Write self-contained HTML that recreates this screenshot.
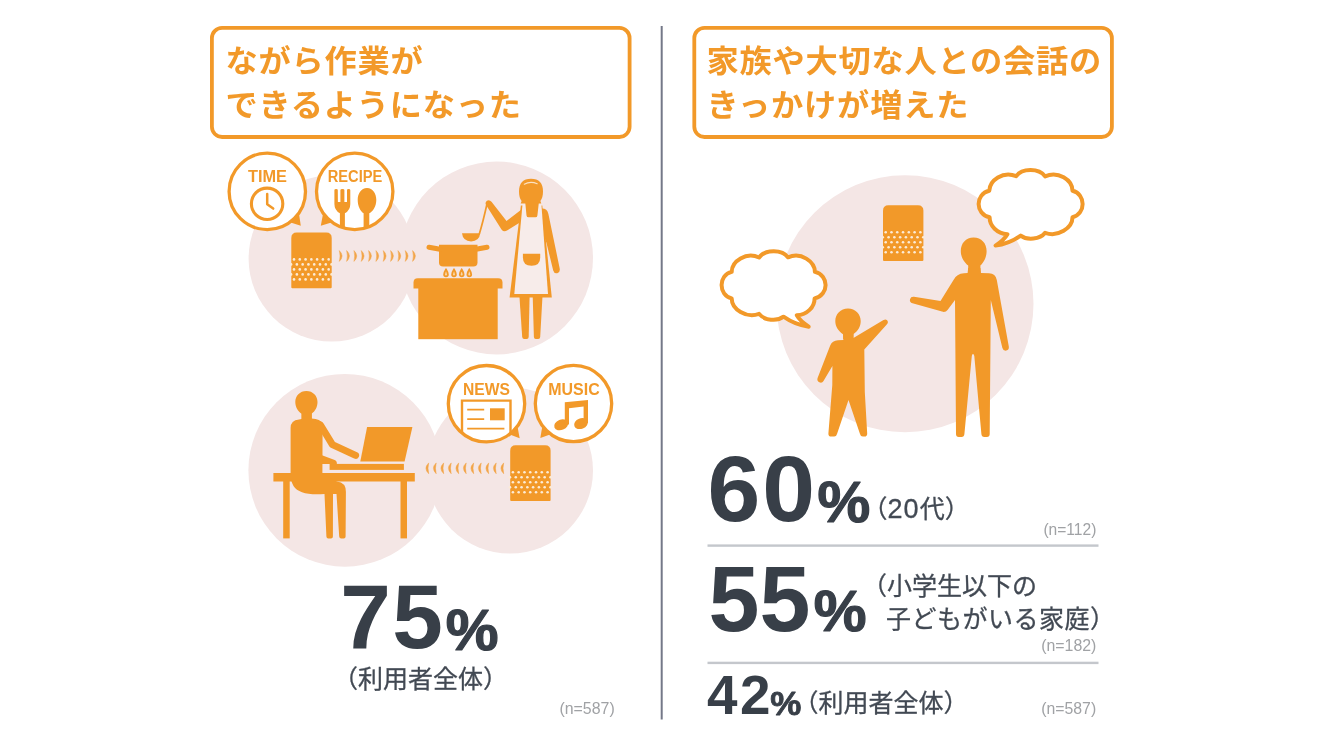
<!DOCTYPE html>
<html lang="ja">
<head>
<meta charset="utf-8">
<title>ながら作業ができるようになった・家族や大切な人との会話のきっかけが増えた</title>
<style>
html,body{margin:0;padding:0;background:#fff;}
body{width:1320px;height:743px;overflow:hidden;font-family:"Liberation Sans","Noto Sans CJK JP",sans-serif;}
svg{display:block;position:absolute;left:0;top:0;filter:blur(0.45px);}
svg text{font-family:"Liberation Sans","Noto Sans CJK JP",sans-serif;}
.ttl{font-weight:700;font-size:31px;fill:#f29929;letter-spacing:0.75px;}
.lbl{font-weight:700;font-size:15.8px;fill:#f29929;}
.big{font-weight:700;fill:#383f48;}
.note{font-weight:400;font-size:25px;fill:#424953;stroke:#424953;stroke-width:0.3px;}
.n{font-weight:400;font-size:17px;fill:#a0a2a5;}
</style>
</head>
<body>
<svg width="1320" height="743" viewBox="0 0 1320 743">

<rect x="660.7" y="26" width="2" height="693.5" fill="#747888"/>
<rect x="211.9" y="27.9" width="417.7" height="109.1" rx="10.2" fill="#fff" stroke="#f29929" stroke-width="3.8"/>
<rect x="694.3" y="27.9" width="417.6" height="109.1" rx="10.2" fill="#fff" stroke="#f29929" stroke-width="3.8"/>
<text class="ttl" transform="translate(225.4,72) scale(1.04,1)">ながら作業が</text>
<text class="ttl" transform="translate(225.4,115.8) scale(1.04,1)">できるようになった</text>
<text class="ttl" transform="translate(706.4,72.3) scale(1.04,1)">家族や大切な人との会話の</text>
<text class="ttl" transform="translate(706.4,116.2) scale(1.04,1)">きっかけが増えた</text>
<g fill="#f4e6e5">
<circle cx="331.6" cy="258.5" r="83"/>
<circle cx="496.6" cy="258" r="96.4"/>
<circle cx="344.8" cy="470.3" r="96.4"/>
<circle cx="510" cy="470.5" r="83"/>
<circle cx="905" cy="303.8" r="128.5"/>
</g>
<!-- cooking scene -->
<path d="M291.3,287.2 L291.3,237.9 Q291.3,232.4 296.8,232.4 L326.2,232.4 Q331.7,232.4 331.7,237.9 L331.7,287.2 Q331.7,288.2 330.7,288.2 L292.3,288.2 Q291.3,288.2 291.3,287.2 Z" fill="#f29929"/>
<g fill="#fcebd6"><circle cx="294.00" cy="259.40" r="1.3"/><circle cx="299.78" cy="259.40" r="1.3"/><circle cx="305.56" cy="259.40" r="1.3"/><circle cx="311.34" cy="259.40" r="1.3"/><circle cx="317.12" cy="259.40" r="1.3"/><circle cx="322.90" cy="259.40" r="1.3"/><circle cx="328.68" cy="259.40" r="1.3"/><circle cx="291.10" cy="264.40" r="1.3"/><circle cx="296.88" cy="264.40" r="1.3"/><circle cx="302.66" cy="264.40" r="1.3"/><circle cx="308.44" cy="264.40" r="1.3"/><circle cx="314.22" cy="264.40" r="1.3"/><circle cx="320.00" cy="264.40" r="1.3"/><circle cx="325.78" cy="264.40" r="1.3"/><circle cx="331.56" cy="264.40" r="1.3"/><circle cx="294.00" cy="269.40" r="1.3"/><circle cx="299.78" cy="269.40" r="1.3"/><circle cx="305.56" cy="269.40" r="1.3"/><circle cx="311.34" cy="269.40" r="1.3"/><circle cx="317.12" cy="269.40" r="1.3"/><circle cx="322.90" cy="269.40" r="1.3"/><circle cx="328.68" cy="269.40" r="1.3"/><circle cx="291.10" cy="274.40" r="1.3"/><circle cx="296.88" cy="274.40" r="1.3"/><circle cx="302.66" cy="274.40" r="1.3"/><circle cx="308.44" cy="274.40" r="1.3"/><circle cx="314.22" cy="274.40" r="1.3"/><circle cx="320.00" cy="274.40" r="1.3"/><circle cx="325.78" cy="274.40" r="1.3"/><circle cx="331.56" cy="274.40" r="1.3"/><circle cx="294.00" cy="279.40" r="1.3"/><circle cx="299.78" cy="279.40" r="1.3"/><circle cx="305.56" cy="279.40" r="1.3"/><circle cx="311.34" cy="279.40" r="1.3"/><circle cx="317.12" cy="279.40" r="1.3"/><circle cx="322.90" cy="279.40" r="1.3"/><circle cx="328.68" cy="279.40" r="1.3"/></g>
<g fill="#f2a548" stroke="#f2a548" stroke-width="0.5" stroke-linejoin="round"><path d="M339.30,250.60 q5.60,5.40 0,10.80 q1.50,-5.40 0,-10.80 z"/><path d="M346.63,250.60 q5.60,5.40 0,10.80 q1.50,-5.40 0,-10.80 z"/><path d="M353.96,250.60 q5.60,5.40 0,10.80 q1.50,-5.40 0,-10.80 z"/><path d="M361.29,250.60 q5.60,5.40 0,10.80 q1.50,-5.40 0,-10.80 z"/><path d="M368.62,250.60 q5.60,5.40 0,10.80 q1.50,-5.40 0,-10.80 z"/><path d="M375.95,250.60 q5.60,5.40 0,10.80 q1.50,-5.40 0,-10.80 z"/><path d="M383.28,250.60 q5.60,5.40 0,10.80 q1.50,-5.40 0,-10.80 z"/><path d="M390.61,250.60 q5.60,5.40 0,10.80 q1.50,-5.40 0,-10.80 z"/><path d="M397.94,250.60 q5.60,5.40 0,10.80 q1.50,-5.40 0,-10.80 z"/><path d="M405.27,250.60 q5.60,5.40 0,10.80 q1.50,-5.40 0,-10.80 z"/><path d="M412.60,250.60 q5.60,5.40 0,10.80 q1.50,-5.40 0,-10.80 z"/></g>
<polygon points="289,222 299,214 300.8,225.8" fill="#f29929"/><circle cx="267.3" cy="191.4" r="38.2" fill="#fff" stroke="#f29929" stroke-width="3.3"/>
<polygon points="320.8,225.8 323,214 333,222" fill="#f29929"/><circle cx="354.7" cy="191.4" r="38.2" fill="#fff" stroke="#f29929" stroke-width="3.3"/>
<text class="lbl" x="267.5" y="182.2" text-anchor="middle" textLength="39" lengthAdjust="spacingAndGlyphs">TIME</text>
<text class="lbl" x="355" y="182.2" text-anchor="middle" textLength="54.5" lengthAdjust="spacingAndGlyphs">RECIPE</text>
<circle cx="267.1" cy="203.8" r="15.7" fill="none" stroke="#f29929" stroke-width="3.1"/>
<path d="M267.2,194 L267.2,204.3 L273.2,208.6" fill="none" stroke="#f29929" stroke-width="2.5" stroke-linecap="round" stroke-linejoin="round"/>
<clipPath id="cR"><circle cx="354.7" cy="191.4" r="38"/></clipPath>
<g clip-path="url(#cR)" fill="#f29929">
<path d="M334.4,190 Q334.4,188.9 336.1,188.9 Q337.8,188.9 337.8,190 L337.9,202 L340.4,202 L340.4,190 Q340.4,188.9 342.4,188.9 Q344.4,188.9 344.4,190 L344.4,202 L347,202 L347,190 Q347,188.9 348.6,188.9 Q350.3,188.9 350.3,190 L350.3,204 Q350.3,210.3 344.9,213.3 L344.9,232 L339.9,232 L339.9,213.3 Q334.4,210.3 334.4,204 Z"/>
<path d="M367,188.1 C373,188.1 376.3,194 376.3,200 C376.3,206.5 373,211.3 369.3,213.3 L369.3,232 L363.6,232 L363.6,213.3 C360.5,211.3 357.7,206.5 357.7,200 C357.7,194 361,188.1 367,188.1 Z"/>
</g>
<g fill="#f29929">
<path d="M413.5,288.5 L413.5,282.5 Q413.5,278.2 417.8,278.2 L498.2,278.2 Q502.5,278.2 502.5,282.5 L502.5,288.5 Z"/>
<rect x="418.3" y="288" width="79.4" height="51.2"/>
<path d="M439,244.7 L477.5,244.7 L477.5,262.5 Q477.5,266.6 473.4,266.6 L443.1,266.6 Q439,266.6 439,262.5 Z"/>
</g>
<path d="M429,247.2 L440,249.2 M476,249.2 L487,247.2" stroke="#f29929" stroke-width="5" stroke-linecap="round" fill="none"/>
<g fill="#f9d8aa" stroke="#f29929" stroke-width="1.8"><path d="M446,269.6 q1.9,3 1.9,4.9 a1.9,1.9 0 0 1 -3.8,0 q0,-1.9 1.9,-4.9 z"/><path d="M454,269.6 q1.9,3 1.9,4.9 a1.9,1.9 0 0 1 -3.8,0 q0,-1.9 1.9,-4.9 z"/><path d="M461.7,269.6 q1.9,3 1.9,4.9 a1.9,1.9 0 0 1 -3.8,0 q0,-1.9 1.9,-4.9 z"/><path d="M469.3,269.6 q1.9,3 1.9,4.9 a1.9,1.9 0 0 1 -3.8,0 q0,-1.9 1.9,-4.9 z"/></g>
<path d="M462,233.3 L480.2,233.3 Q479.3,241.4 471.1,241.4 Q462.9,241.4 462,233.3 Z" fill="#f29929"/>
<path d="M479.3,234 Q483,222 487.2,203" fill="none" stroke="#f29929" stroke-width="1.7" stroke-linecap="round"/>
<g fill="#f29929">
<path d="M519,191.5 C519,183 523,178.8 531,178.8 C539,178.8 543,183 543,191.5 C543,196 542,199 540.4,201 L541.3,203.4 L520.7,203.4 L521.6,201 C520,199 519,196 519,191.5 Z"/>
<path d="M519.4,296 L529.6,296 L528.7,337 Q528.6,339 526.7,339 L524.2,339 Q522.4,339 522.2,337 Z"/>
<path d="M532.7,296 L542.5,296 L540.2,337 Q540.1,339 538.2,339 L535.7,339 Q534,339 533.9,337 Z"/>
<path d="M521.5,209.5 L506.5,221 L491.5,201.8 Q489.3,199.2 486.9,200.8 Q484.6,202.6 486.2,205.2 L501.5,229.5 Q503.8,232.5 507,230.6 L521.5,221.5 Z"/>
<path d="M542,208.6 Q547.2,208.6 548.4,214 L559.7,268.4 Q560.4,272.4 557.3,273.2 Q554.2,273.8 553.2,270.4 L546.5,243 L542,230 Z"/>
<path d="M520.9,205.5 L542.3,205.5 L551.8,297.4 L509.6,297.4 Z"/>
</g>
<path d="M522.5,204.6 L541.4,204.6 L548,294 L514.3,294 Z" fill="#f7ecea"/>
<path d="M525.3,203 L538.8,203 L537.4,215.4 Q537.2,217.3 535.3,217.3 L528.6,217.3 Q526.7,217.3 526.5,215.4 Z" fill="#f29929"/>
<path d="M522.9,253.8 L540.2,253.8 L540.2,257.5 Q540.2,265.8 531.55,265.8 Q522.9,265.8 522.9,257.5 Z" fill="#f29929"/>
<path d="M524.3,184.2 Q530.5,180.8 537.2,183.8" fill="none" stroke="#fbe2c3" stroke-width="1.1" stroke-linecap="round"/>
<!-- desk scene -->
<path d="M510.2,500.0 L510.2,450.7 Q510.2,445.2 515.7,445.2 L545.1,445.2 Q550.6,445.2 550.6,450.7 L550.6,500.0 Q550.6,501.0 549.6,501.0 L511.2,501.0 Q510.2,501.0 510.2,500.0 Z" fill="#f29929"/>
<g fill="#fcebd6"><circle cx="512.90" cy="472.20" r="1.3"/><circle cx="518.68" cy="472.20" r="1.3"/><circle cx="524.46" cy="472.20" r="1.3"/><circle cx="530.24" cy="472.20" r="1.3"/><circle cx="536.02" cy="472.20" r="1.3"/><circle cx="541.80" cy="472.20" r="1.3"/><circle cx="547.58" cy="472.20" r="1.3"/><circle cx="510.00" cy="477.20" r="1.3"/><circle cx="515.78" cy="477.20" r="1.3"/><circle cx="521.56" cy="477.20" r="1.3"/><circle cx="527.34" cy="477.20" r="1.3"/><circle cx="533.12" cy="477.20" r="1.3"/><circle cx="538.90" cy="477.20" r="1.3"/><circle cx="544.68" cy="477.20" r="1.3"/><circle cx="550.46" cy="477.20" r="1.3"/><circle cx="512.90" cy="482.20" r="1.3"/><circle cx="518.68" cy="482.20" r="1.3"/><circle cx="524.46" cy="482.20" r="1.3"/><circle cx="530.24" cy="482.20" r="1.3"/><circle cx="536.02" cy="482.20" r="1.3"/><circle cx="541.80" cy="482.20" r="1.3"/><circle cx="547.58" cy="482.20" r="1.3"/><circle cx="510.00" cy="487.20" r="1.3"/><circle cx="515.78" cy="487.20" r="1.3"/><circle cx="521.56" cy="487.20" r="1.3"/><circle cx="527.34" cy="487.20" r="1.3"/><circle cx="533.12" cy="487.20" r="1.3"/><circle cx="538.90" cy="487.20" r="1.3"/><circle cx="544.68" cy="487.20" r="1.3"/><circle cx="550.46" cy="487.20" r="1.3"/><circle cx="512.90" cy="492.20" r="1.3"/><circle cx="518.68" cy="492.20" r="1.3"/><circle cx="524.46" cy="492.20" r="1.3"/><circle cx="530.24" cy="492.20" r="1.3"/><circle cx="536.02" cy="492.20" r="1.3"/><circle cx="541.80" cy="492.20" r="1.3"/><circle cx="547.58" cy="492.20" r="1.3"/></g>
<g fill="#f2a548" stroke="#f2a548" stroke-width="0.5" stroke-linejoin="round"><path d="M428.70,462.90 q-5.60,5.40 0,10.80 q-1.50,-5.40 0,-10.80 z"/><path d="M436.20,462.90 q-5.60,5.40 0,10.80 q-1.50,-5.40 0,-10.80 z"/><path d="M443.70,462.90 q-5.60,5.40 0,10.80 q-1.50,-5.40 0,-10.80 z"/><path d="M451.20,462.90 q-5.60,5.40 0,10.80 q-1.50,-5.40 0,-10.80 z"/><path d="M458.70,462.90 q-5.60,5.40 0,10.80 q-1.50,-5.40 0,-10.80 z"/><path d="M466.20,462.90 q-5.60,5.40 0,10.80 q-1.50,-5.40 0,-10.80 z"/><path d="M473.70,462.90 q-5.60,5.40 0,10.80 q-1.50,-5.40 0,-10.80 z"/><path d="M481.20,462.90 q-5.60,5.40 0,10.80 q-1.50,-5.40 0,-10.80 z"/><path d="M488.70,462.90 q-5.60,5.40 0,10.80 q-1.50,-5.40 0,-10.80 z"/><path d="M496.20,462.90 q-5.60,5.40 0,10.80 q-1.50,-5.40 0,-10.80 z"/><path d="M503.70,462.90 q-5.60,5.40 0,10.80 q-1.50,-5.40 0,-10.80 z"/></g>
<polygon points="508.5,434 517.5,426.5 519.7,438.3" fill="#f29929"/><circle cx="486.5" cy="403.7" r="38.2" fill="#fff" stroke="#f29929" stroke-width="3.3"/>
<polygon points="540.3,438 542.3,426.5 551.5,434" fill="#f29929"/><circle cx="573.5" cy="403.5" r="38.2" fill="#fff" stroke="#f29929" stroke-width="3.3"/>
<text class="lbl" x="486.5" y="394.5" text-anchor="middle" textLength="47" lengthAdjust="spacingAndGlyphs">NEWS</text>
<text class="lbl" x="574" y="394.5" text-anchor="middle" textLength="51.4" lengthAdjust="spacingAndGlyphs">MUSIC</text>
<clipPath id="cN"><circle cx="486.5" cy="403.7" r="38"/></clipPath>
<g clip-path="url(#cN)">
<path d="M462,445 L462,400.6 L510.5,400.6 L510.5,445" fill="none" stroke="#f29929" stroke-width="2.4"/>
<path d="M467.2,409.7 L484.2,409.7 M467.2,419.2 L484.2,419.2 M467.2,428.7 L504.4,428.7" fill="none" stroke="#f29929" stroke-width="1.7"/>
<rect x="490" y="408.3" width="14.7" height="12" fill="#f29929"/>
</g>
<g fill="#f29929">
<ellipse cx="561.2" cy="424.8" rx="7.3" ry="5.2" transform="rotate(-22 561.2 424.8)"/>
<ellipse cx="581" cy="423.6" rx="7.1" ry="5.2" transform="rotate(-22 581 423.6)"/>
<path d="M564.8,402.3 L588,400 L588,423 L583.6,423 L583.6,406.6 L569,408.3 L569,424.5 L564.8,424.5 Z"/>
</g>
<g fill="#f29929">
<rect x="273.4" y="473" width="141.4" height="8.5"/>
<rect x="283.2" y="481" width="6.5" height="57.4"/>
<rect x="400.5" y="481" width="6.5" height="57.4"/>
<rect x="329.6" y="463.9" width="74.3" height="6"/>
<path d="M367.1,427 L412.4,427 L404.6,461.6 L360.3,461.6 Z"/>
<path d="M306.4,390.9 C313,390.9 317.5,395.8 317.5,402 C317.5,407 315.2,411 311.8,413.6 L311.8,419 L301.6,419 L301.6,413.8 C297.8,411 295.3,407 295.3,402 C295.3,395.8 299.8,390.9 306.4,390.9 Z"/>
<path d="M322,455.2 L335.3,460.2 Q337.2,461.2 336.9,464 L322,464 Z"/>
<path d="M301.6,411 L311.6,411 L311.6,418.6 Q320.5,419 322.6,423.5 L322.4,474 L337,481.5 Q346,482.5 345.9,492 L345.6,536.5 Q345.6,538.4 343.7,538.4 L341.2,538.4 Q339.4,538.4 339.2,536.5 L336.5,494 L333,494 L332.9,536.5 Q332.9,538.4 331,538.4 L328.3,538.4 Q326.5,538.4 326.4,536.5 L324.5,494 Q300,496 293.5,486 Q290.6,481 290.6,474 L290.6,428 Q290.6,420 299,419.4 L301.6,419 Z"/>
</g>
<path d="M320.6,425.2 L332.4,444.6 L355.6,455.4" fill="none" stroke="#f29929" stroke-width="7" stroke-linecap="round" stroke-linejoin="round"/>
<!-- family scene -->
<path d="M883,260.1 L883,210.8 Q883,205.3 888.5,205.3 L917.9,205.3 Q923.4,205.3 923.4,210.8 L923.4,260.1 Q923.4,261.1 922.4,261.1 L884.0,261.1 Q883,261.1 883,260.1 Z" fill="#f29929"/>
<g fill="#fcebd6"><circle cx="885.70" cy="232.30" r="1.3"/><circle cx="891.48" cy="232.30" r="1.3"/><circle cx="897.26" cy="232.30" r="1.3"/><circle cx="903.04" cy="232.30" r="1.3"/><circle cx="908.82" cy="232.30" r="1.3"/><circle cx="914.60" cy="232.30" r="1.3"/><circle cx="920.38" cy="232.30" r="1.3"/><circle cx="882.80" cy="237.30" r="1.3"/><circle cx="888.58" cy="237.30" r="1.3"/><circle cx="894.36" cy="237.30" r="1.3"/><circle cx="900.14" cy="237.30" r="1.3"/><circle cx="905.92" cy="237.30" r="1.3"/><circle cx="911.70" cy="237.30" r="1.3"/><circle cx="917.48" cy="237.30" r="1.3"/><circle cx="923.26" cy="237.30" r="1.3"/><circle cx="885.70" cy="242.30" r="1.3"/><circle cx="891.48" cy="242.30" r="1.3"/><circle cx="897.26" cy="242.30" r="1.3"/><circle cx="903.04" cy="242.30" r="1.3"/><circle cx="908.82" cy="242.30" r="1.3"/><circle cx="914.60" cy="242.30" r="1.3"/><circle cx="920.38" cy="242.30" r="1.3"/><circle cx="882.80" cy="247.30" r="1.3"/><circle cx="888.58" cy="247.30" r="1.3"/><circle cx="894.36" cy="247.30" r="1.3"/><circle cx="900.14" cy="247.30" r="1.3"/><circle cx="905.92" cy="247.30" r="1.3"/><circle cx="911.70" cy="247.30" r="1.3"/><circle cx="917.48" cy="247.30" r="1.3"/><circle cx="923.26" cy="247.30" r="1.3"/><circle cx="885.70" cy="252.30" r="1.3"/><circle cx="891.48" cy="252.30" r="1.3"/><circle cx="897.26" cy="252.30" r="1.3"/><circle cx="903.04" cy="252.30" r="1.3"/><circle cx="908.82" cy="252.30" r="1.3"/><circle cx="914.60" cy="252.30" r="1.3"/><circle cx="920.38" cy="252.30" r="1.3"/></g>
<path transform="translate(0,0)" d="M989.3,190.8 C989.5,180.5 1003,170.5 1016.2,176.2 C1022,168 1039,168 1045.1,176.4 C1058,170.5 1072.5,180 1072.5,190.8 C1086,194 1086,214 1072.5,217.3 C1072.5,228 1058,237.5 1045.1,232.8 C1040,239.5 1027,240.5 1020.7,235.6 C1013,241 1004,244.5 995.5,245.6 C1001,242 1005,238.5 1007.4,234.2 C997,233.5 989.6,226 989.6,217.3 C975,214 975,194 989.3,190.8 Z" fill="#fff" stroke="#f29929" stroke-width="4" stroke-linejoin="round"/>
<path transform="translate(1804.2,81.1) scale(-1,1)" d="M989.3,190.8 C989.5,180.5 1003,170.5 1016.2,176.2 C1022,168 1039,168 1045.1,176.4 C1058,170.5 1072.5,180 1072.5,190.8 C1086,194 1086,214 1072.5,217.3 C1072.5,228 1058,237.5 1045.1,232.8 C1040,239.5 1027,240.5 1020.7,235.6 C1013,241 1004,244.5 995.5,245.6 C1001,242 1005,238.5 1007.4,234.2 C997,233.5 989.6,226 989.6,217.3 C975,214 975,194 989.3,190.8 Z" fill="#fff" stroke="#f29929" stroke-width="4" stroke-linejoin="round"/>
<g fill="#f29929">
<path d="M848,308.4 C855.5,308.4 860.7,314 860.7,321 C860.7,326.5 858,331 853.6,334 L853.4,339 L843.2,339 L843,334.2 C838.3,331 835.3,326.5 835.3,321 C835.3,314 840.5,308.4 848,308.4 Z"/>
<path d="M843.4,331 L853.2,331 L853.4,338 L883.5,320 Q886.5,318.5 887.7,321 Q888.7,323.3 886.3,325 L864.3,349.5 L864.8,392 L867.2,433.5 Q867.3,436.6 864.4,436.6 L862.8,436.6 Q860.6,436.6 860,434 L848.5,400 L837,434 Q836.4,436.6 834.2,436.6 L831.2,436.6 Q828.2,436.6 828.4,433.5 L832.3,385 L832.4,366 L823.5,381 Q822,383.5 819.3,382.3 Q816.6,380.8 817.6,378 L830.2,345.5 Q832.2,340.6 838,340.3 L843.3,340 Z"/>
<path d="M973.6,237.6 C981.5,237.6 986.6,243.5 986.6,251 C986.6,257.5 983.6,262.5 980.4,265.6 L980.4,272 L968.2,272 L968.2,265.6 C964.4,262.5 960.8,257.5 960.8,251 C960.8,243.5 965.8,237.6 973.6,237.6 Z"/>
<path d="M968.2,268 L980.4,268 L981,272.9 L989,273.3 Q995.6,273.6 996.8,280 L1008.8,346.5 Q1009.3,350 1006.3,350.6 Q1003.3,351.1 1002.4,348 L990.8,300 L990.4,350 L989.7,434 Q989.7,437 986.8,437 L984.3,437 Q981.6,437 981.4,434 L974.3,356 Q973.9,354 973,354 Q972.1,354 971.8,356 L964.4,434 Q964.2,437 961.5,437 L958.8,437 Q956,437 956,434 L955,300 L947.5,310 Q945.5,312.6 942,311.6 L912.5,303.2 Q909.3,302.2 910,299.2 Q910.8,296.4 914,296.8 L940.5,301 L953.5,280 Q956.5,273.6 964,273.2 L967.6,272.9 Z"/>
</g>
<text class="big" transform="translate(340.3,648.3) scale(1.0,1)" font-size="91" letter-spacing="1.4">75</text>
<text class="big" transform="translate(445.8,649.9) scale(1.05,1)" font-size="56.5" stroke="#383f48" stroke-width="1.2" stroke-linejoin="round">%</text>
<text class="note" x="333" y="687.8" font-size="24.8" letter-spacing="0" >（利用者全体）</text>
<text class="n" x="559.4" y="714.4" textLength="55.3" lengthAdjust="spacingAndGlyphs">(n=587)</text>
<text class="big" transform="translate(707.4,520.6) scale(1.015,1)" font-size="93.5" letter-spacing="2">60</text>
<text class="big" transform="translate(817.6,521.6) scale(1.05,1)" font-size="56.5" stroke="#383f48" stroke-width="1.2" stroke-linejoin="round">%</text>
<text class="note" x="862.4" y="518.2" font-size="25" letter-spacing="0" >（<tspan font-size="27" letter-spacing="1.2">20</tspan>代）</text>
<text class="n" x="1043.4" y="535" textLength="53" lengthAdjust="spacingAndGlyphs">(n=112)</text>
<rect x="707.5" y="544.4" width="391" height="2.4" fill="#c4c7cc"/>
<text class="big" transform="translate(708.4,631.2) scale(0.985,1)" font-size="93" letter-spacing="0.2">55</text>
<text class="big" transform="translate(813.8,631.2) scale(1.05,1)" font-size="56.5" stroke="#383f48" stroke-width="1.2" stroke-linejoin="round">%</text>
<text class="note" x="862" y="594.8" font-size="25" letter-spacing="0" >（小学生以下の</text>
<text class="note" x="886" y="628" font-size="25" letter-spacing="0.5" >子どもがいる家庭）</text>
<text class="n" x="1041.2" y="651.4" textLength="55.2" lengthAdjust="spacingAndGlyphs">(n=182)</text>
<rect x="707.5" y="661.7" width="391" height="2.4" fill="#c4c7cc"/>
<text class="big" transform="translate(706.9,713.8) scale(1.0,1)" font-size="54.8" letter-spacing="2.6">42</text>
<text class="big" transform="translate(770.2,714.8) scale(1.06,1)" font-size="33" stroke="#383f48" stroke-width="0.8" stroke-linejoin="round">%</text>
<text class="note" x="793.6" y="711.6" font-size="25" letter-spacing="0" >（利用者全体）</text>
<text class="n" x="1041.2" y="714.4" textLength="55" lengthAdjust="spacingAndGlyphs">(n=587)</text>
</svg>
</body>
</html>
